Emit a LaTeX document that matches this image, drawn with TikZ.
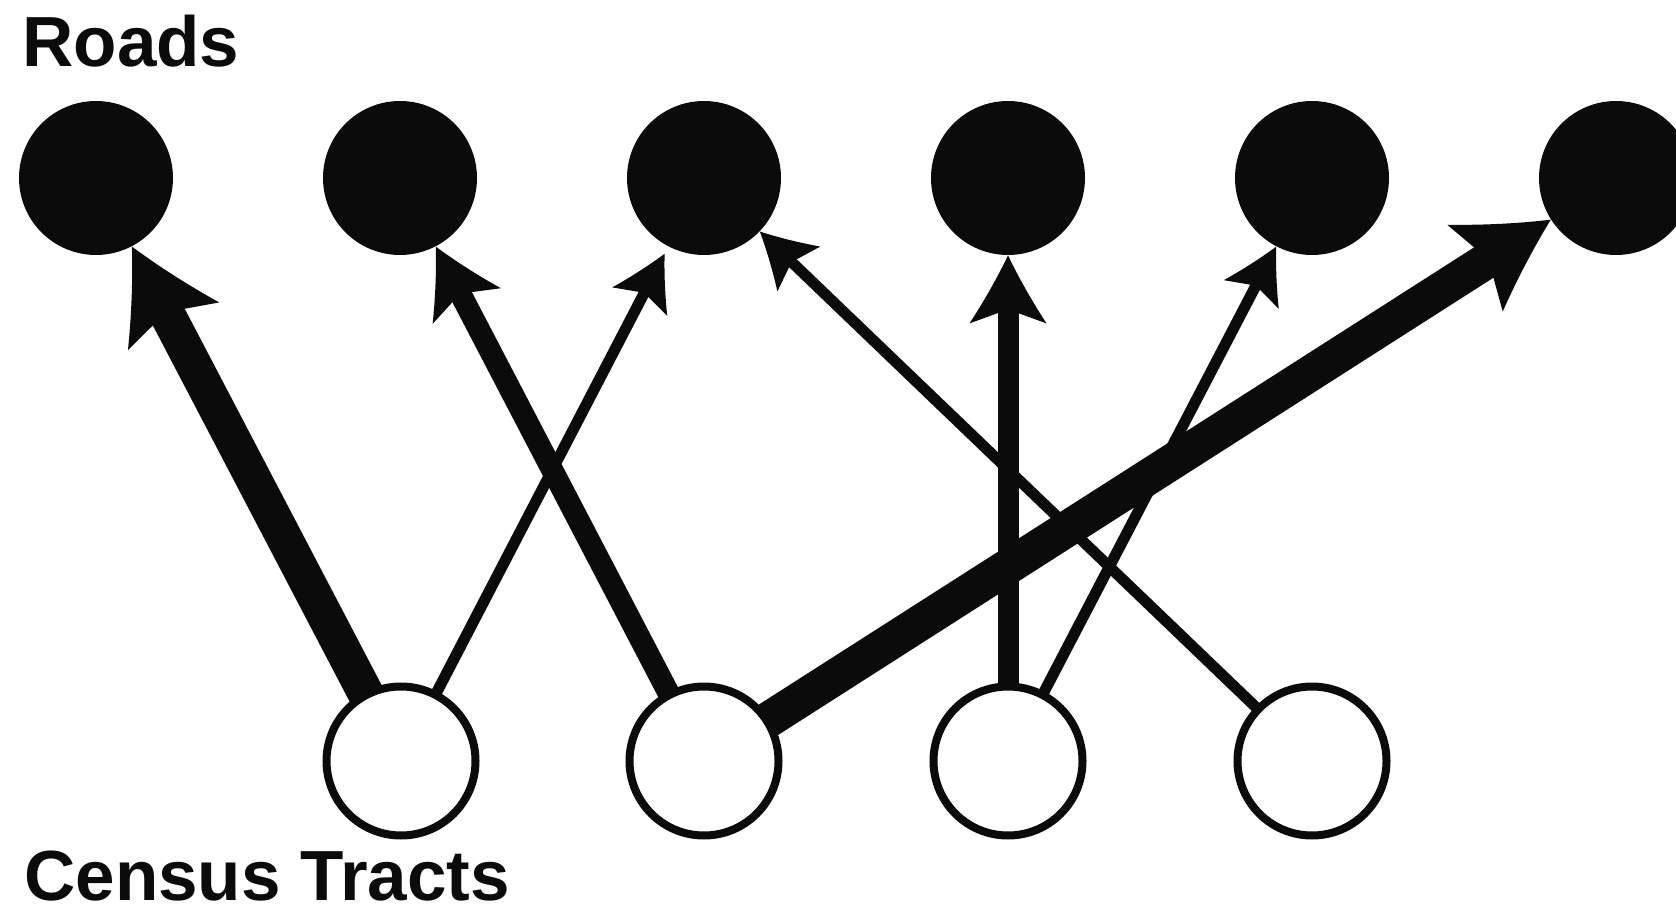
\documentclass[tikz,border=0pt]{standalone}
\usepackage{fontspec}
\setmainfont{Liberation Sans}
\usetikzlibrary{arrows.meta,backgrounds}
\newdimen\swlineend
\pgfdeclarearrow{
  name = Swept,
  parameters = {\the\pgfarrowlength,\the\pgfarrowwidth,\the\pgfarrowinset},
  setup code = {
    \pgfarrowssettipend{0pt}
    \pgfarrowssetbackend{-\pgfarrowlength}
    \pgfarrowssetvisualbackend{-\pgfarrowlength}
    \swlineend=\pgfarrowinset
    \advance\swlineend by -\pgfarrowlength
    \advance\swlineend by 1pt
    \pgfarrowssetlineend{\swlineend}
    \pgfarrowssavethe\pgfarrowlength
    \pgfarrowssavethe\pgfarrowwidth
    \pgfarrowssavethe\pgfarrowinset
  },
  drawing code = {
    \pgfpathmoveto{\pgfpointorigin}
    \pgfpathcurveto{\pgfpoint{-.33\pgfarrowlength}{.14\pgfarrowwidth}}{\pgfpoint{-.67\pgfarrowlength}{.31\pgfarrowwidth}}{\pgfpoint{-\pgfarrowlength}{.5\pgfarrowwidth}}
    \pgfpathlineto{\pgfpoint{\pgfarrowinset-\pgfarrowlength}{0pt}}
    \pgfpathlineto{\pgfpoint{-\pgfarrowlength}{-.5\pgfarrowwidth}}
    \pgfpathcurveto{\pgfpoint{-.67\pgfarrowlength}{-.31\pgfarrowwidth}}{\pgfpoint{-.33\pgfarrowlength}{-.14\pgfarrowwidth}}{\pgfpointorigin}
    \pgfpathclose
    \pgfusepathqfill
  },
  defaults = {length = 10pt, width = 10pt, inset = 2pt}
}
\definecolor{ink}{HTML}{0B0B0B}
\tikzset{
  roadnode/.style={circle, fill=ink, inner sep=0pt, minimum size=77pt},
  tractnode/.style={circle, draw=ink, line width=4pt, fill=white, inner sep=0pt, minimum size=74.5pt},
  label text/.style={anchor=base west, inner sep=0pt, text=ink, font=\fontsize{35.5pt}{40pt}\selectfont\bfseries},
  thinlink/.style={draw=ink, line width=5.5pt, -{Swept[length=27pt,width=31pt,inset=5pt]}},
  midlink/.style={draw=ink, line width=11pt, -{Swept[length=33.5pt,width=38.5pt,inset=7pt]}},
  vertlink/.style={draw=ink, line width=10.5pt, -{Swept[length=34pt,width=38.5pt,inset=7pt]}},
  thicklink/.style={draw=ink, line width=18pt, -{Swept[length=45pt,width=51.5pt,inset=8pt]}},
}
\begin{document}
\begin{tikzpicture}[x=0.5pt, y=-0.5pt]
\useasboundingbox (0,0) rectangle (1676,914);
% road nodes
\node[roadnode] (r1) at (96,178) {};
\node[roadnode] (r2) at (400,178) {};
\node[roadnode] (r3) at (704,178) {};
\node[roadnode] (r4) at (1008,178) {};
\node[roadnode] (r5) at (1312,178) {};
\node[roadnode] (r6) at (1616,178) {};
% tract nodes
\node[tractnode] (c1) at (401,761) {};
\node[tractnode] (c2) at (704,761) {};
\node[tractnode] (c3) at (1008,761) {};
\node[tractnode] (c4) at (1312,761) {};
% labels
\node[label text] (tRoads) at (22,67) {Roads};
\node[label text] (tCensus) at (24,900) {Census Tracts};
% links
\begin{scope}[on background layer]
\draw[thicklink] (c1.center) -- (r1);
\draw[thinlink, shorten >=4pt] (c1.center) -- (r3);
\draw[midlink] (c2.center) -- (r2);
\draw[thicklink] (c2.center) -- (r6);
\draw[vertlink] (c3.center) -- (r4);
\draw[thinlink] (c3.center) -- (r5);
\draw[thinlink] (c4.center) -- (r3);
\end{scope}
\end{tikzpicture}
\end{document}
